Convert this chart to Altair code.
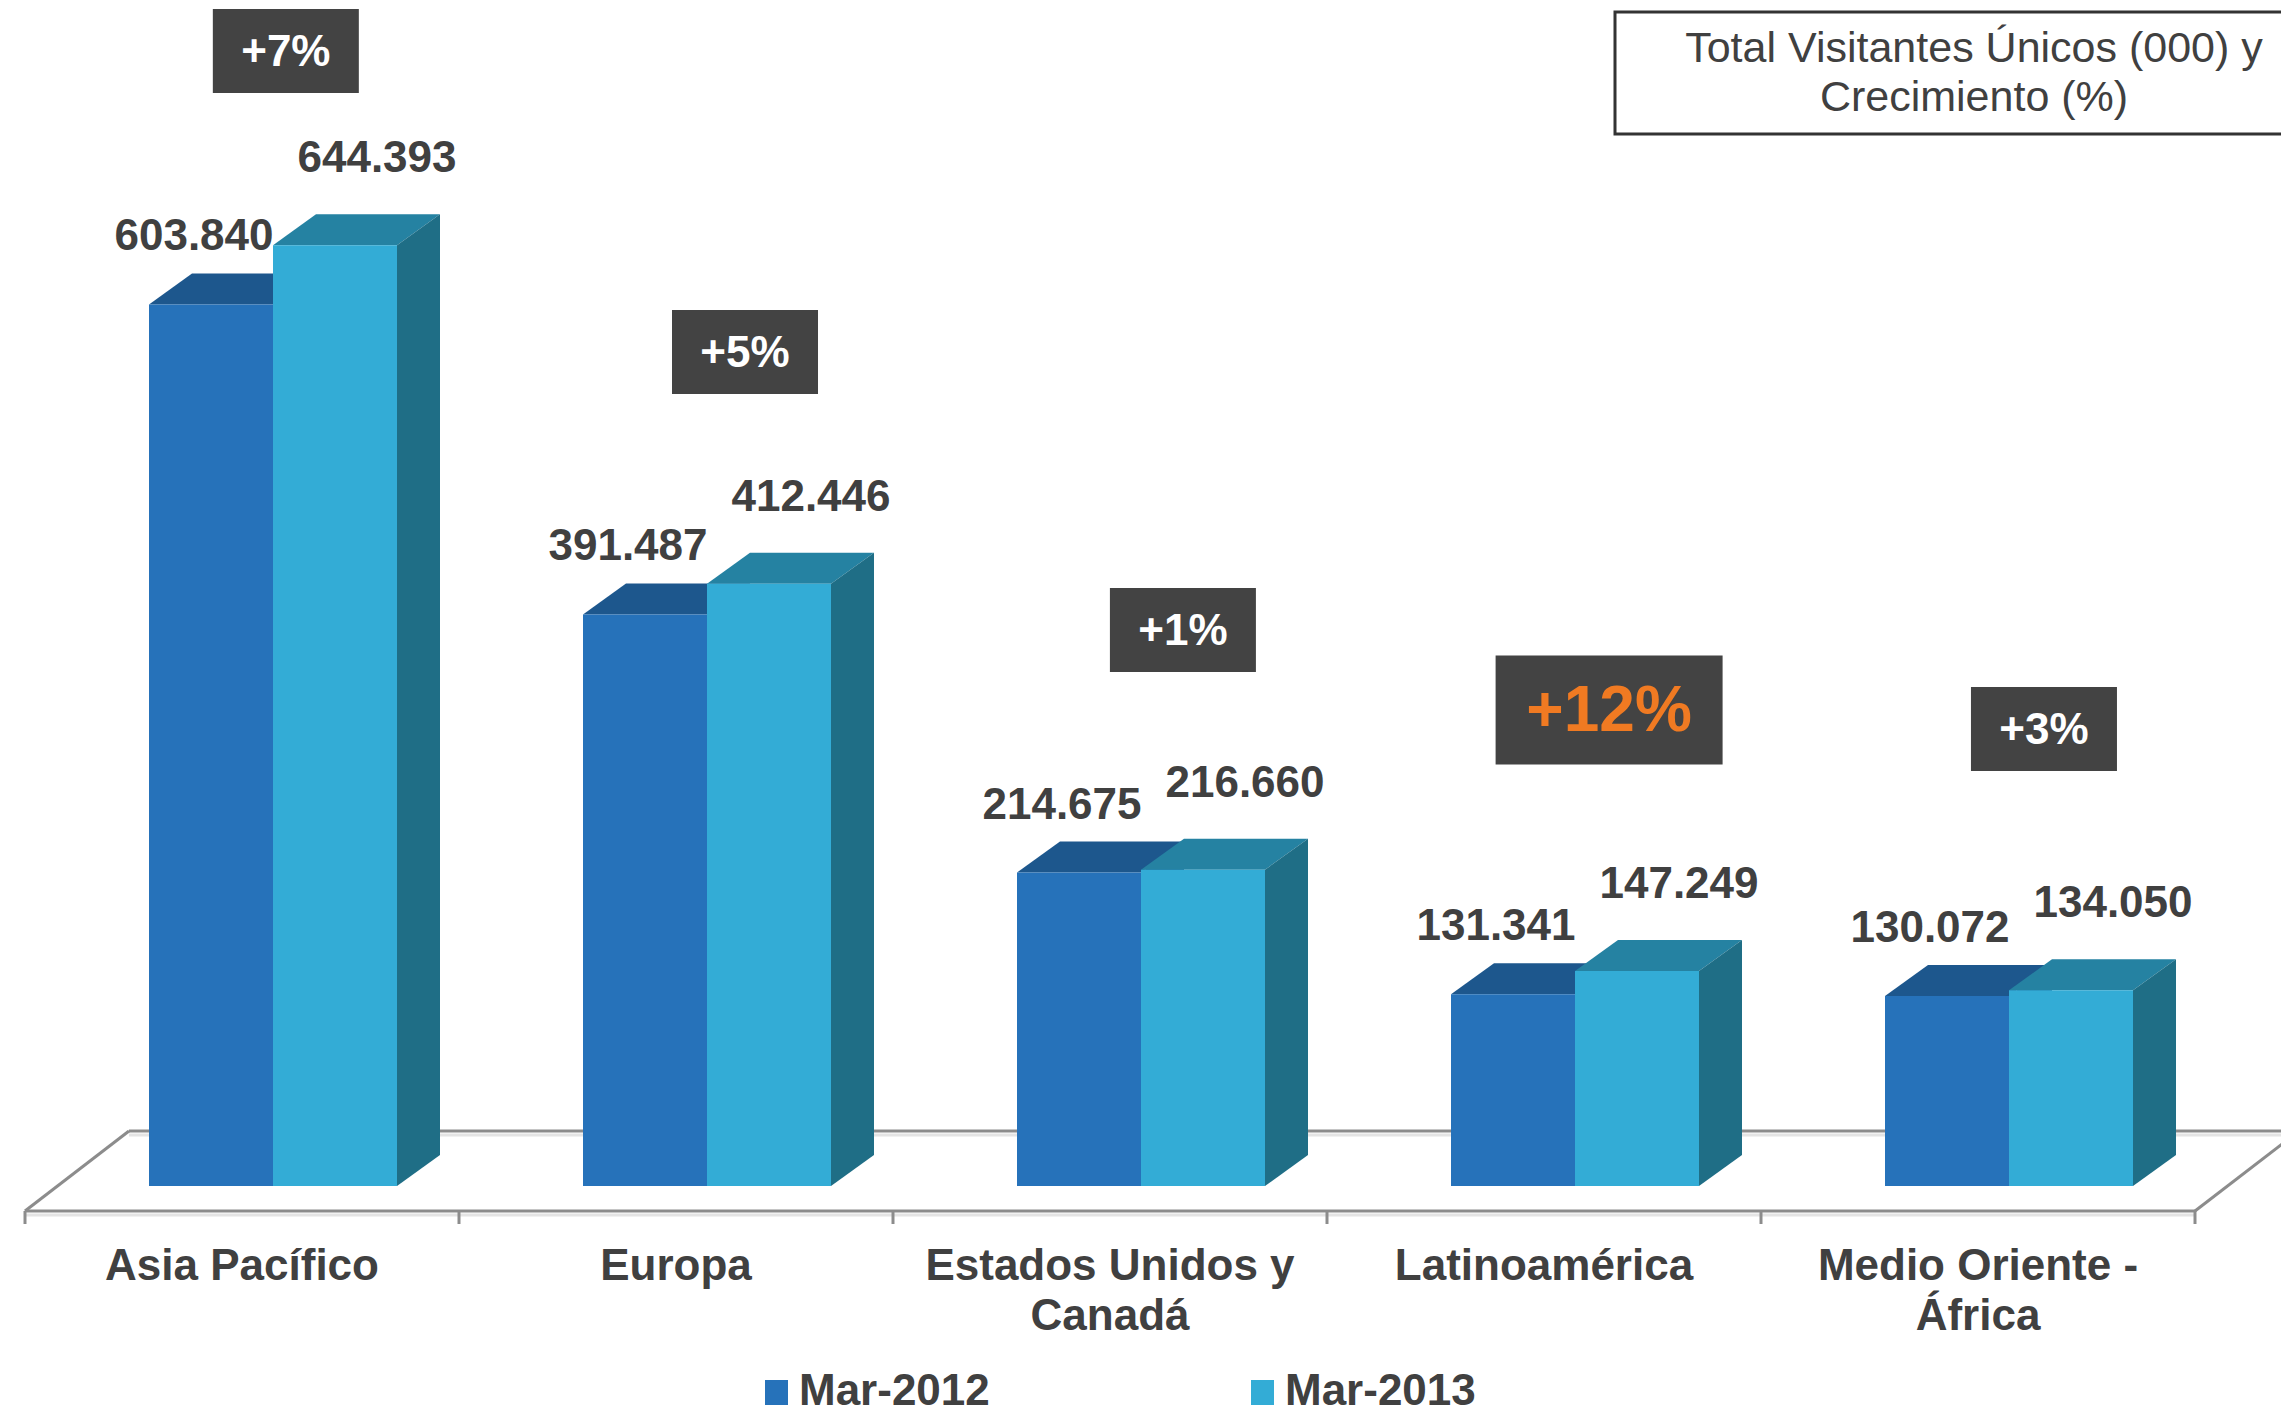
import altair as alt
import pandas as pd

# ---------------- data ----------------
category_lines = [["Asia Pacífico"], ["Europa"], ["Estados Unidos y", "Canadá"],
                  ["Latinoamérica"], ["Medio Oriente -", "África"]]
mar_2012 = [603840, 391487, 214675, 131341, 130072]
mar_2013 = [644393, 412446, 216660, 147249, 134050]
growth = ["+7%", "+5%", "+1%", "+12%", "+3%"]
series_names = ["Mar-2012", "Mar-2013"]
title_lines = ["Total Visitantes Únicos (000) y", "Crecimiento (%)"]

# ---------------- layout ----------------
W, H = 2273, 1408
PAGE = 8
X_ORIGIN = 25.0      # image px where the category axis starts
CAT_PX = 434.0       # px per category
Y_ZERO = 1186.0      # image px of value 0 (bar bottoms)
PX_PER_VAL = 1.46 / 1000.0

def ux(px):
    return (px - X_ORIGIN) / CAT_PX

def uy(py):
    return (Y_ZERO - py) / PX_PER_VAL

def dux(d):
    return d / CAT_PX

def duy(d):
    return d / PX_PER_VAL

XS = alt.Scale(domain=[ux(PAGE), ux(PAGE + W)], nice=False, zero=False)
YS = alt.Scale(domain=[uy(PAGE + H), uy(PAGE)], nice=False, zero=False)

def X(f):
    return alt.X(f"{f}:Q", scale=XS, axis=None)

def Y(f):
    return alt.Y(f"{f}:Q", scale=YS, axis=None)

FONT = "Liberation Sans"
TEXT_COLOR = "#404040"
FRONT = ["#2672ba", "#33acd6"]
TOP = ["#1d578d", "#2582a2"]
SIDE = ["#1c5a8f", "#1f6e86"]
BAR_OFF = [2 / 7, 4 / 7]
BAR_W = 2 / 7
DEPTH_X = dux(43)
DEPTH_Y = duy(31)

series_vals = [mar_2012, mar_2013]

# ---------------- floor ----------------
FLOOR_DX, FLOOR_DY = 104, 80
front_y = 1211
back_y = front_y - FLOOR_DY
floor_rows = [
    dict(x=0, x2=5, y=uy(front_y + 4), y2=uy(front_y + 4), c="#e4e4e4"),
    dict(x=ux(X_ORIGIN + FLOOR_DX), x2=ux(2400), y=uy(back_y + 4), y2=uy(back_y + 4), c="#e4e4e4"),
    dict(x=0, x2=5, y=uy(front_y), y2=uy(front_y), c="#8c8c8c"),
    dict(x=ux(X_ORIGIN + FLOOR_DX), x2=ux(2400), y=uy(back_y), y2=uy(back_y), c="#8c8c8c"),
    dict(x=0, x2=ux(X_ORIGIN + FLOOR_DX), y=uy(front_y), y2=uy(back_y), c="#8c8c8c"),
    dict(x=5, x2=5 + dux(FLOOR_DX), y=uy(front_y), y2=uy(back_y), c="#8c8c8c"),
]
for k in range(len(category_lines) + 1):
    floor_rows.append(dict(x=k, x2=k, y=uy(front_y), y2=uy(front_y + 13), c="#8c8c8c"))
floor = alt.Chart(pd.DataFrame(floor_rows)).mark_rule(strokeWidth=3).encode(
    x=X("x"), x2="x2", y=Y("y"), y2="y2", color=alt.Color("c:N", scale=None))

# ---------------- bars ----------------
layers = [floor]
for s in range(2):
    fr, tp, sd = [], [], []
    for i, v in enumerate(series_vals[s]):
        xl = i + BAR_OFF[s]
        xr = xl + BAR_W
        fr.append(dict(x=xl, x2=xr, y=0, y2=v, c=FRONT[s]))
        tp.append(dict(id=i, y=v, x=xl, x2=xr, c=TOP[s]))
        tp.append(dict(id=i, y=v + DEPTH_Y, x=xl + DEPTH_X, x2=xr + DEPTH_X, c=TOP[s]))
        sd.append(dict(id=i, x=xr, y=0, y2=v, c=SIDE[s]))
        sd.append(dict(id=i, x=xr + DEPTH_X, y=DEPTH_Y, y2=v + DEPTH_Y, c=SIDE[s]))
    top = alt.Chart(pd.DataFrame(tp)).mark_area(orient="horizontal").encode(
        y=Y("y"), x=X("x"), x2="x2", detail="id:N", color=alt.Color("c:N", scale=None))
    side = alt.Chart(pd.DataFrame(sd)).mark_area(orient="vertical").encode(
        x=X("x"), y=Y("y"), y2="y2", detail="id:N", color=alt.Color("c:N", scale=None))
    front = alt.Chart(pd.DataFrame(fr)).mark_rect().encode(
        x=X("x"), x2="x2", y=Y("y"), y2="y2", color=alt.Color("c:N", scale=None))
    layers += [top, side, front]

# ---------------- value labels ----------------
LABEL_DX = [-17, 42]
LABEL_DY = [67, 86]
vl = []
for s in range(2):
    for i, v in enumerate(series_vals[s]):
        vl.append(dict(x=i + BAR_OFF[s] + BAR_W / 2 + dux(LABEL_DX[s]),
                       y=v + duy(LABEL_DY[s]),
                       t=f"{v:,}".replace(",", ".")))
value_labels = alt.Chart(pd.DataFrame(vl)).mark_text(
    font=FONT, fontSize=44, fontWeight="bold", color=TEXT_COLOR,
    align="center", baseline="middle").encode(x=X("x"), y=Y("y"), text="t:N")
layers.append(value_labels)

# ---------------- growth boxes ----------------
BOX_POS = [(0.601, 51), (0.659, 352), (0.668, 630), (0.650, 710), (0.652, 729)]
max_g = max(int(g.strip("+%")) for g in growth)
gb = []
for i, g in enumerate(growth):
    hi = int(g.strip("+%")) == max_g
    bw, bh = (227, 109) if hi else (146, 84)
    cx = i + BOX_POS[i][0]
    cy = BOX_POS[i][1]
    gb.append(dict(x=cx - dux(bw / 2), x2=cx + dux(bw / 2), y=uy(cy + bh / 2), y2=uy(cy - bh / 2),
                   cx=cx, cy=uy(cy + 2), t=g, tc="#f07a22" if hi else "#ffffff",
                   fs=64 if hi else 44))
gdf = pd.DataFrame(gb)
g_rect = alt.Chart(gdf).mark_rect(color="#434343").encode(
    x=X("x"), x2="x2", y=Y("y"), y2="y2")
g_text = alt.Chart(gdf).mark_text(font=FONT, fontWeight="bold", align="center",
                                  baseline="middle").encode(
    x=X("cx"), y=Y("cy"), text="t:N",
    color=alt.Color("tc:N", scale=None), size=alt.Size("fs:Q", scale=None))
layers += [g_rect, g_text]

# ---------------- category labels ----------------
cl = pd.DataFrame(dict(x=[i + 0.5 for i in range(len(category_lines))],
                       y=[uy(1280)] * len(category_lines),
                       t=category_lines))
cat_labels = alt.Chart(cl).mark_text(
    font=FONT, fontSize=44, fontWeight="bold", color=TEXT_COLOR,
    align="center", baseline="alphabetic", lineHeight=50).encode(
    x=X("x"), y=Y("y"), text="t")
layers.append(cat_labels)

# ---------------- title box ----------------
tb = pd.DataFrame([dict(x=ux(1615), x2=ux(2400), y=uy(134), y2=uy(12),
                        tx=ux(1974), ty=uy(62), t=title_lines)])
t_rect = alt.Chart(tb).mark_rect(fill="white", stroke="#333333", strokeWidth=3).encode(
    x=X("x"), x2="x2", y=Y("y"), y2="y2")
t_text = alt.Chart(tb).mark_text(
    font=FONT, fontSize=43, color=TEXT_COLOR, align="center",
    baseline="alphabetic", lineHeight=49).encode(x=X("tx"), y=Y("ty"), text="t")
layers += [t_rect, t_text]

# ---------------- legend ----------------
LEG_X = [765, 1251]
LEG_BASE = 1405
lg = pd.DataFrame([dict(x=ux(LEG_X[s]), x2=ux(LEG_X[s] + 23), y=uy(LEG_BASE), y2=uy(LEG_BASE - 25),
                        tx=ux(LEG_X[s] + 34), ty=uy(LEG_BASE), t=series_names[s], c=FRONT[s])
                   for s in range(2)])
l_rect = alt.Chart(lg).mark_rect().encode(
    x=X("x"), x2="x2", y=Y("y"), y2="y2", color=alt.Color("c:N", scale=None))
l_text = alt.Chart(lg).mark_text(
    font=FONT, fontSize=44, fontWeight="bold", color=TEXT_COLOR,
    align="left", baseline="alphabetic").encode(x=X("tx"), y=Y("ty"), text="t:N")
layers += [l_rect, l_text]

chart = alt.layer(*layers).properties(
    width=W, height=H, padding=0,
    autosize=alt.AutoSizeParams(type="none"),
    background="white",
).configure_view(stroke=None)

chart.save("out.html", embed_options={"renderer": "svg", "actions": False})
